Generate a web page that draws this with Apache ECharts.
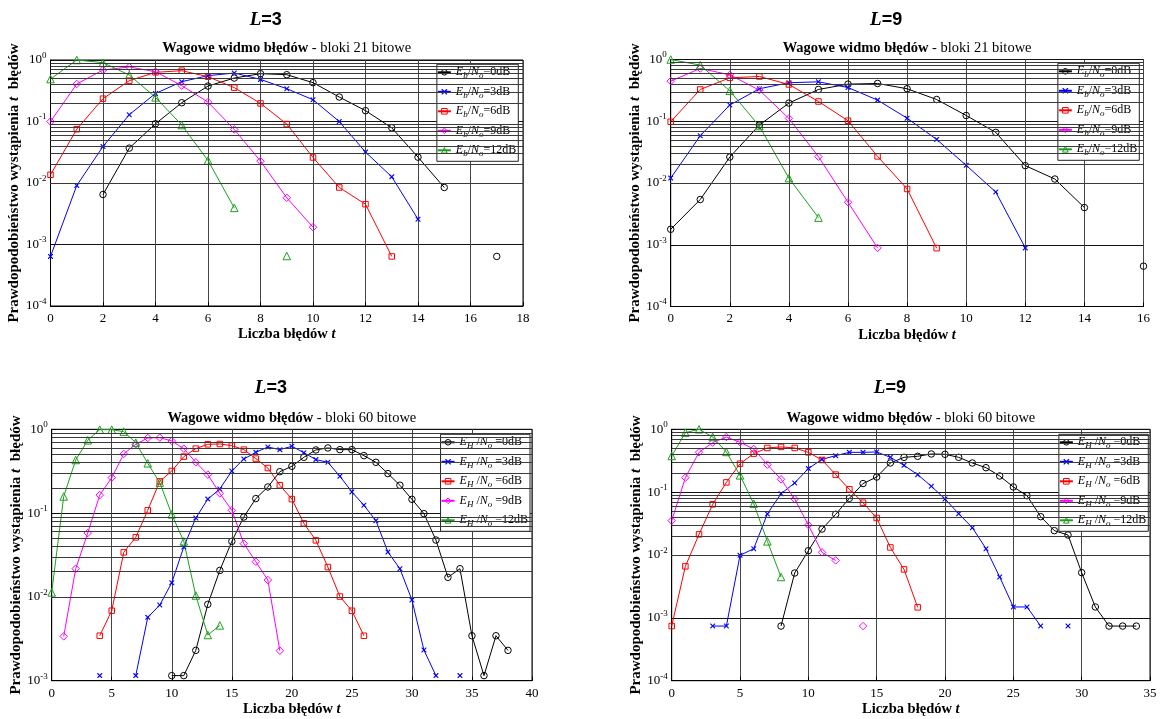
<!DOCTYPE html>
<html><head><meta charset="utf-8">
<script src="https://cdn.jsdelivr.net/npm/echarts@6/dist/echarts.min.js"></script>
<style>html,body{margin:0;padding:0;background:#fff}#c{width:1162px;height:719px}</style>
</head><body><div id="c"></div>
<script>
// ---------- DATA ----------
const T21 = [0,1,2,3,4,5,6,7,8,9,10,11,12,13,14,15,16,17];
const T60 = [0,1,2,3,4,5,6,7,8,9,10,11,12,13,14,15,16,17,18,19,20,21,22,23,24,25,26,27,28,29,30,31,32,33,34,35,36,37,38];

// L=3, 21-bit blocks (value at t = index)
const A_0dB  = [null,null,0.0065,0.0369,0.0919,0.202,0.377,0.509,0.599,0.577,0.428,0.25,0.15,0.079,0.0263,0.00845,null,0.00064];
const A_3dB  = [0.00064,0.0091,0.0393,0.129,0.286,0.444,0.556,0.614,0.484,0.341,0.226,0.1,0.0318,0.0126,0.00258];
const A_6dB  = [0.0136,0.075,0.235,0.461,0.63,0.67,0.535,0.355,0.197,0.0908,0.026,0.00845,0.00452,0.00064];
const A_9dB  = [0.1,0.407,0.687,0.77,0.646,0.382,0.207,0.0743,0.0227,0.00575,0.00191];
const A_12dB = [0.49,1.0,0.905,0.57,0.247,0.0875,0.0232,0.00394,null,0.00065];

// L=9, 21-bit blocks
const B_0dB  = [0.00178,0.0054,0.0263,0.0867,0.197,0.327,0.399,0.409,0.336,0.225,0.124,0.066,0.0191,0.0116,0.004,null,0.00045];
const B_3dB  = [0.012,0.0583,0.183,0.336,0.42,0.435,0.352,0.22,0.112,0.0508,0.0193,0.00715,0.00089];
const B_6dB  = [0.098,0.327,0.505,0.531,0.394,0.209,0.102,0.027,0.008,0.00088];
const B_9dB  = [0.446,0.715,0.565,0.319,0.111,0.0267,0.00487,0.00089];
const B_12dB = [1.0,0.81,0.311,0.0835,0.012,0.00275];

// L=3, 60-bit blocks
const C_0dB  = [null,null,null,null,null,null,null,null,null,null,
  0.00115,0.00115,0.0023,0.00815,0.0207,0.046,0.0898,0.149,0.205,0.312,0.362,0.463,0.567,0.599,0.572,0.572,0.485,0.404,0.296,0.215,0.146,0.0985,0.0477,0.0171,0.0217,0.00344,0.00115,0.00344,0.0023];
const C_3dB  = [null,null,null,null,0.00115,null,null,0.00115,0.0057,0.008,0.0148,0.0394,0.0874,0.147,0.194,0.318,0.442,0.531,0.615,0.572,0.627,0.526,0.435,0.404,0.275,0.179,0.124,0.0813,0.0343,0.0217,0.00918,0.00232,0.00115,null,0.00115];
const C_6dB  = [null,null,null,null,0.00344,0.00684,0.034,0.0514,0.108,0.239,0.318,0.472,0.588,0.662,0.668,0.638,0.572,0.447,0.345,0.215,0.147,0.0755,0.0473,0.0227,0.0101,0.00684,0.00344];
const C_9dB  = [null,0.00338,0.0217,0.0578,0.164,0.265,0.508,0.662,0.788,0.796,0.726,0.588,0.404,0.288,0.172,0.108,0.0432,0.0263,0.0159,0.00228];
const C_12dB = [0.0113,0.158,0.43,0.739,0.99,0.99,0.938,0.693,0.393,0.231,0.0966,0.046,0.0104,0.00351,0.00457];

// L=9, 60-bit blocks
const D_0dB  = [null,null,null,null,null,null,null,null,
  0.00074,0.00517,0.0117,0.0259,0.0444,0.0798,0.137,0.174,0.291,0.358,0.372,0.405,0.4,0.358,0.291,0.245,0.181,0.121,0.0879,0.0407,0.0244,0.0208,0.00524,0.00149,0.00074,0.00074,0.00074];
const D_3dB  = [null,null,null,0.00074,0.00074,0.00988,0.0126,0.045,0.0946,0.14,0.237,0.333,0.381,0.43,0.43,0.436,0.358,0.267,0.19,0.124,0.0778,0.0455,0.0272,0.0126,0.00447,0.00149,0.00149,0.00074,null,0.00074];
const D_6dB  = [0.00074,0.0066,0.0213,0.064,0.143,0.284,0.41,0.505,0.524,0.505,0.43,0.325,0.19,0.111,0.068,0.0388,0.0132,0.0059,0.00147];
const D_9dB  = [0.0352,0.17,0.43,0.613,0.755,0.621,0.486,0.274,0.16,0.0778,0.03,0.011,0.0082,null,0.00074];
const D_12dB = [0.376,0.885,1.0,0.755,0.436,0.185,0.0656,0.0165,0.00447];

const snrLevels = ['0','3','6','9','12'];
const headings = ['L=3','L=9','L=3','L=9'];
const titlesBits = ['21','21','60','60'];

// ---------- STYLE ----------
const serif = 'Liberation Serif';
const colors = ['#000000','#0000ff','#ff0000','#ff00ff','#1ca01c'];
const xMark = 'path://M0,0L1.6,0L5,3.4L8.4,0L10,0L10,1.6L6.6,5L10,8.4L10,10L8.4,10L5,6.6L1.6,10L0,10L0,8.4L3.4,5L0,1.6Z';
const symbols = ['circle', xMark, 'rect', 'diamond', 'triangle'];
const symSizes = [6.5, 5, 5.5, 7.5, 7.5];
const hollow = 'rgba(255,255,255,0)';

const grids = [
  {left:50.5, top:60, width:472.5, height:246},
  {left:670.7, top:59.5, width:472.8, height:247},
  {left:51.7, top:429.3, width:480.3, height:251.4},
  {left:671.7, top:429.3, width:478.3, height:251.4}
];
const xRange = [[0,18,2],[0,16,2],[0,40,5],[0,35,5]];
const yMin = [1e-4,1e-4,1e-3,1e-4];

const sets = [
  {t:T21, vals:[A_0dB,A_3dB,A_6dB,A_9dB,A_12dB], pre:'Eb'},
  {t:T21, vals:[B_0dB,B_3dB,B_6dB,B_9dB,B_12dB], pre:'Eb'},
  {t:T60, vals:[C_0dB,C_3dB,C_6dB,C_9dB,C_12dB], pre:'EH'},
  {t:T60, vals:[D_0dB,D_3dB,D_6dB,D_9dB,D_12dB], pre:'EH'}
];

const itemStyleFor = k => k === 1 ? {color:colors[k]} : {color:hollow, borderColor:colors[k], borderWidth:1};

const series = [];
sets.forEach((s, gi) => {
  // minor log grid lines (2..9 x 10^k) drawn through the y scale
  const minor = [];
  for (let e = Math.round(Math.log10(yMin[gi])); e < 0; e++)
    for (let m = 2; m <= 9; m++) minor.push({yAxis: m * Math.pow(10, e)});
  series.push({
    type:'line', name:'minor'+gi, xAxisIndex:gi, yAxisIndex:gi, z:1,
    data:[[xRange[gi][0], 1]], showSymbol:false, lineStyle:{opacity:0}, silent:true,
    markLine:{silent:true, symbol:['none','none'], label:{show:false},
      lineStyle:{color:'#3a3a3a', width:1, type:'solid'}, emphasis:{disabled:true}, animation:false, data:minor}
  });
  s.vals.forEach((arr, k) => {
    series.push({
      type:'line', name:s.pre + snrLevels[k], xAxisIndex:gi, yAxisIndex:gi, z:3,
      data: arr.map((v,i) => [s.t[i], v]),
      symbol: symbols[k], symbolSize: symSizes[k], showAllSymbol:true, connectNulls:false,
      lineStyle:{color:colors[k], width:1},
      itemStyle: itemStyleFor(k),
      emphasis:{disabled:true}, animation:false
    });
  });
});

const supRich = {
  b:{fontFamily:serif, fontSize:13, color:'#000', lineHeight:18},
  p:{fontFamily:serif, fontSize:9, color:'#000', lineHeight:9, verticalAlign:'top'}
};
const nameRich = {bi:{fontFamily:serif, fontSize:15, fontWeight:'bold', fontStyle:'italic', color:'#000'}};

const xAxes = grids.map((g, gi) => ({
  type:'value', gridIndex:gi, min:xRange[gi][0], max:xRange[gi][1], interval:xRange[gi][2],
  axisLine:{show:true, onZero:false, lineStyle:{color:'#000'}},
  axisTick:{show:true, inside:true, length:4, lineStyle:{color:'#000'}},
  splitLine:{show:true, lineStyle:{color:'#444', width:1}},
  axisLabel:{fontFamily:serif, fontSize:13, color:'#000', margin:6},
  name:'Liczba błędów {bi|t}', nameLocation:'middle', nameGap:21,
  nameTextStyle:{fontFamily:serif, fontSize:14.5, fontWeight:'bold', color:'#000',
    rich:{bi:{fontFamily:serif, fontSize:14.5, fontWeight:'bold', fontStyle:'italic', color:'#000'}}}
}));
const yAxes = grids.map((g, gi) => ({
  type:'log', logBase:10, gridIndex:gi, min:yMin[gi], max:1,
  axisLine:{show:true, lineStyle:{color:'#000'}},
  axisTick:{show:true, inside:true, length:4, lineStyle:{color:'#000'}},
  splitLine:{show:true, lineStyle:{color:'#111', width:1}},
  axisLabel:{margin:4, formatter: v => '{b|10}{p|' + Math.round(Math.log10(v)) + '}', rich:supRich},
  name:'Prawdopodobieństwo wystąpienia {bi|t}  błędów', nameLocation:'middle', nameGap:21,
  nameTextStyle:{fontFamily:serif, fontSize:15, fontWeight:'bold', color:'#000', rich:nameRich}
}));

const legendRich = {
  i:{fontFamily:serif, fontStyle:'italic', fontSize:12, color:'#000', lineHeight:16},
  s:{fontFamily:serif, fontStyle:'italic', fontSize:9, color:'#000', lineHeight:8, verticalAlign:'bottom'},
  n:{fontFamily:serif, fontSize:12, color:'#000', lineHeight:16}
};
function legendFmt(name) {
  const pre = name.slice(0,2), db = name.slice(2);
  const sub = pre === 'Eb' ? 'b' : 'H';
  const gap = pre === 'Eb' ? '' : ' ';
  return '{i|E}{s|' + sub + '}{n|' + gap + '/}{i|N}{s|o}{n|' + gap + '=' + db + 'dB}';
}
const legendPos = [
  {right:1162-518.3, top:64.3},
  {right:1162-1139.3, top:63.3},
  {right:1162-530, top:434.3},
  {right:1162-1148.3, top:434.3}
];
const legends = sets.map((s, gi) => ({
  data: snrLevels.map((l, k) => ({name: s.pre + l, itemStyle: itemStyleFor(k)})),
  orient:'vertical', ...legendPos[gi],
  itemWidth:13, itemHeight:7, itemGap:5.5, selectedMode:false,
  backgroundColor:'#fff', borderColor:'#222', borderWidth:1, borderRadius:0, padding:[2,2,3,0],
  formatter: legendFmt, textStyle:{rich:legendRich}
}));

const titleRich = {
  b:{fontFamily:serif, fontSize:14.5, fontWeight:'bold', color:'#000'}
};
const titles = [];
grids.forEach((g, gi) => {
  const cx = g.left + g.width/2;
  titles.push({
    text:'{b|Wagowe widmo błędów} - bloki ' + titlesBits[gi] + ' bitowe',
    left: cx, top: gi < 2 ? 41 : 411, textAlign:'center', padding:0,
    textStyle:{fontFamily:serif, fontSize:14.5, fontWeight:'normal', color:'#000', rich:titleRich}
  });
  titles.push({
    text:'{i|L}{n|' + headings[gi].slice(1) + '}',
    left: cx - 21, top: gi < 2 ? 11 : 379, textAlign:'center', padding:0,
    textStyle:{rich:{
      i:{fontFamily:serif, fontStyle:'italic', fontSize:19, color:'#000'},
      n:{fontFamily:'Liberation Sans', fontSize:18, color:'#000'}
    }}
  });
});

const chart = echarts.init(document.getElementById('c'), null, {renderer:'canvas'});
chart.setOption({
  animation:false,
  backgroundColor:'#fff',
  title: titles,
  legend: legends,
  grid: grids.map(g => ({...g, show:true, borderColor:'#000', borderWidth:1, backgroundColor:'transparent', containLabel:false})),
  xAxis: xAxes,
  yAxis: yAxes,
  series: series
});
</script>
</body></html>
